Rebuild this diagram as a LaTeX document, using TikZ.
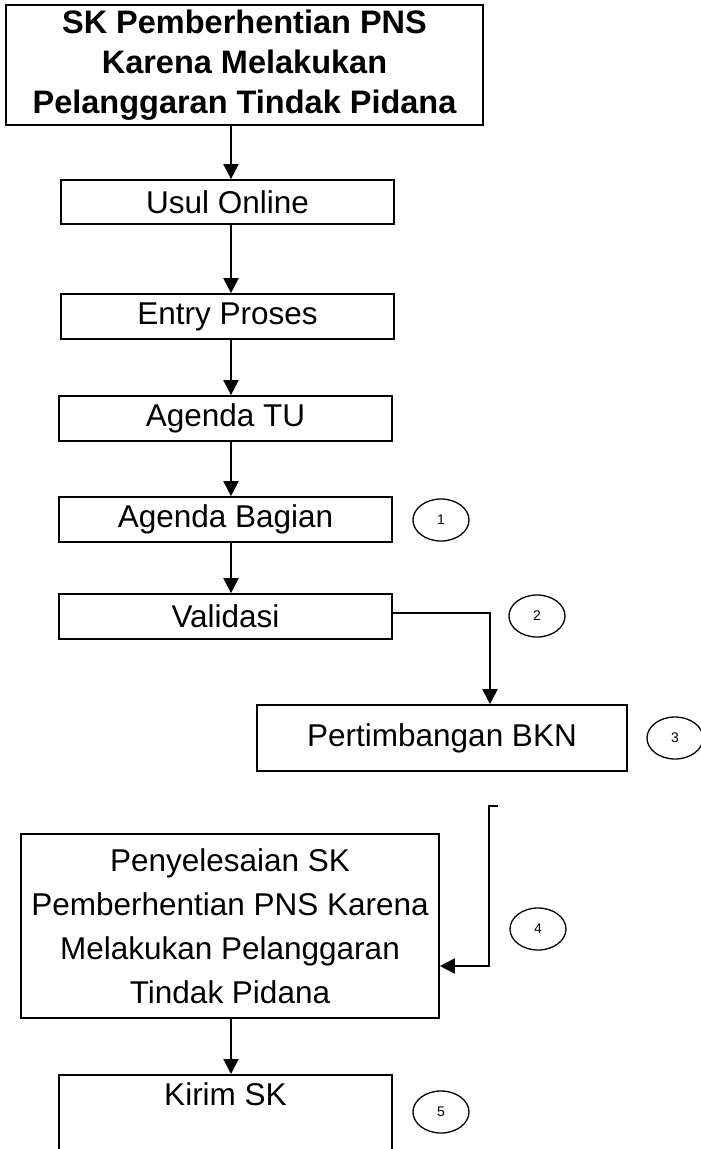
\documentclass[tikz,border=0pt]{standalone}
\usepackage{fontspec}
\setmainfont{Liberation Sans}
\usetikzlibrary{arrows.meta,shapes.geometric}
\begin{document}
\begin{tikzpicture}[x=1pt,y=-1pt,
  box/.style={draw,line width=1.7pt,rectangle,inner sep=0pt,align=center,font=\fontsize{31.5}{44}\selectfont},
  num/.style={draw,ellipse,line width=1.3pt,minimum width=56pt,minimum height=42pt,inner sep=0pt,font=\fontsize{14}{16}\selectfont},
  arr/.style={line width=2pt,-{Triangle[width=15pt,length=15pt]}},
  ]
\useasboundingbox (0,0) rectangle (701,1149);
\clip (0,0) rectangle (701,1149);

\node[box,minimum width=477pt,minimum height=120pt,font=\bfseries\fontsize{32.5}{40}\selectfont] (title) at (244.5,65) {SK Pemberhentian PNS\\Karena Melakukan\\Pelanggaran Tindak Pidana};
\node[box,minimum width=333pt,minimum height=44pt] (usul) at (227.5,202) {Usul Online};
\node[box,minimum width=333pt,minimum height=45pt] (entry) at (227.5,316.5) {Entry Proses};
\node[box,minimum width=333pt,minimum height=45pt] (tu) at (225.5,418.5) {Agenda TU};
\node[box,minimum width=333pt,minimum height=45pt] (bagian) at (225.5,519.5) {Agenda Bagian};
\node[box,minimum width=333pt,minimum height=45pt] (valid) at (225.5,616.5) {Validasi};
\node[box,minimum width=370pt,minimum height=66pt] (pert) at (442,738) {Pertimbangan BKN};
\node[box,minimum width=418pt,minimum height=184pt] (peny) at (230,926) {Penyelesaian SK\\Pemberhentian PNS Karena\\Melakukan Pelanggaran\\Tindak Pidana};
\node[box,minimum width=333pt,minimum height=100pt,anchor=north] (kirim) at (225.5,1074) {};
\node[anchor=base,inner sep=0pt,font=\fontsize{31.5}{44}\selectfont] (kirimtxt) at (225.5,1105) {Kirim SK};

\node[num] (n1) at (441,520) {1};
\node[num] (n2) at (537,616) {2};
\node[num] (n3) at (675,738) {3};
\node[num] (n4) at (538,929) {4};
\node[num] (n5) at (441,1112) {5};

\coordinate (stem) at (231,0);
\coordinate (bkn) at (490,0);
\coordinate (c4top) at (498,806);
\coordinate (c4bend) at (489,966);

\draw[arr] (title.south -| stem) -- (usul.north -| stem);
\draw[arr] (usul.south -| stem) -- (entry.north -| stem);
\draw[arr] (entry.south -| stem) -- (tu.north -| stem);
\draw[arr] (tu.south -| stem) -- (bagian.north -| stem);
\draw[arr] (bagian.south -| stem) -- (valid.north -| stem);
\draw[arr] ([yshift=3.5pt]valid.east) -| (pert.north -| bkn);
\draw[arr] (c4top) -| (c4bend) -- (c4bend -| peny.east);
\draw[arr] (peny.south -| stem) -- (kirim.north -| stem);
\end{tikzpicture}
\end{document}
